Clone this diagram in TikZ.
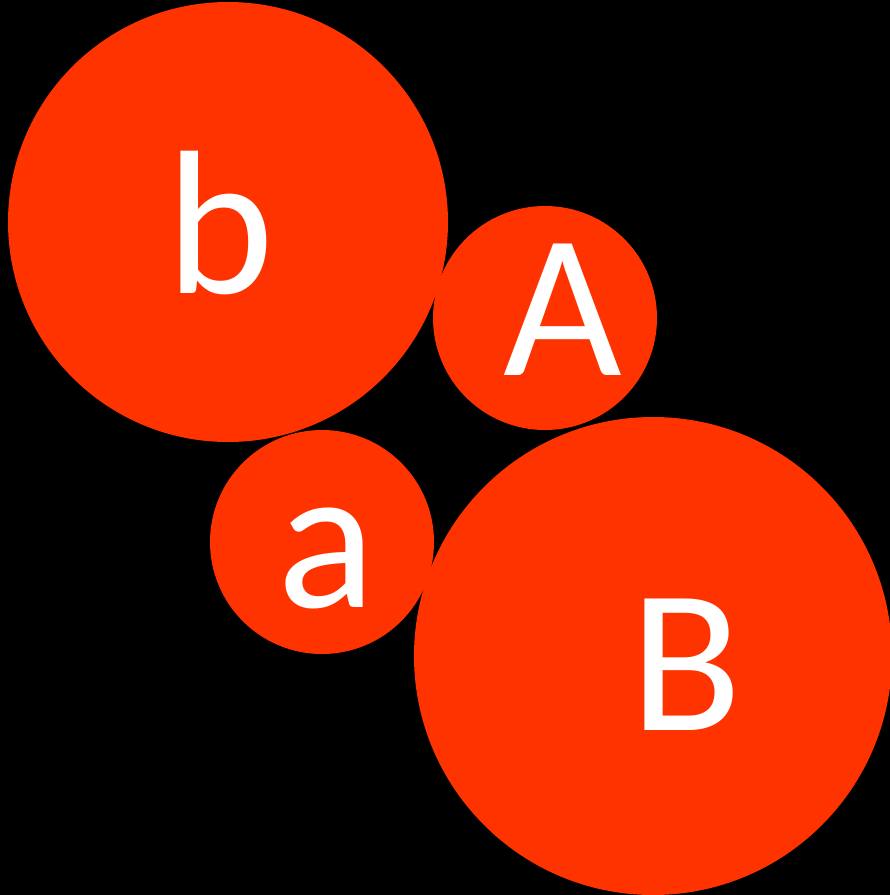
\documentclass[tikz,border=0pt]{standalone}
\usepackage{fontspec}
\setmainfont{Carlito}
\definecolor{circred}{HTML}{FF3300}
\tikzset{
  disc/.style={fill=circred, draw=none},
  letter/.style={text=white, anchor=base, inner sep=0pt, font=\fontsize{205}{205}\selectfont}
}
\begin{document}
\begin{tikzpicture}[x=1pt,y=-1pt]
\fill[black] (0,0) rectangle (890,895);
\useasboundingbox (0,0) rectangle (890,895);
\fill[disc] (228,222) circle (220);
\fill[disc] (545,318) circle (112);
\fill[disc] (322,542) circle (112);
\fill[disc] (653,656) circle (239);
\node[letter] (lb) at (220,293) {b};
\node[letter] (lA) at (563,375) {A};
\node[letter] (la) at (327,607) {a};
\node[letter] (lB) at (686,730) {B};
\end{tikzpicture}
\end{document}
